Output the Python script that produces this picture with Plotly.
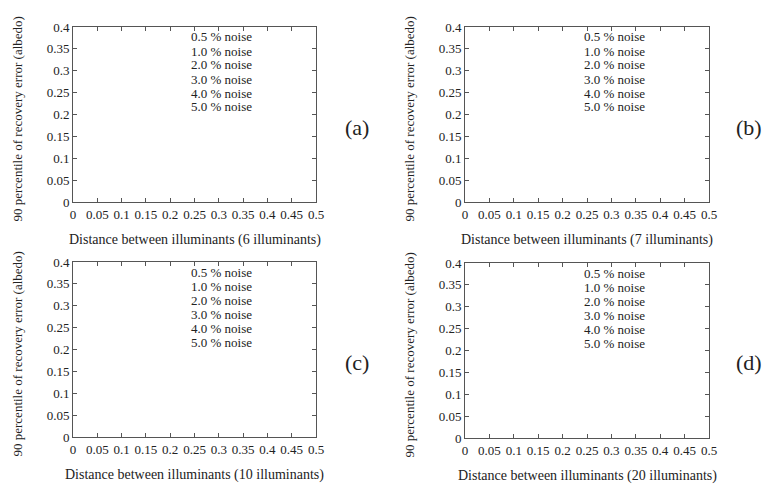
import plotly.graph_objects as go

# ---- data ----
panel_labels = ["(a)", "(b)", "(c)", "(d)"]
illuminants = [6, 7, 10, 20]
noise_levels = ["0.5 % noise", "1.0 % noise", "2.0 % noise", "3.0 % noise", "4.0 % noise", "5.0 % noise"]
x_ticks = [0, 0.05, 0.1, 0.15, 0.2, 0.25, 0.3, 0.35, 0.4, 0.45, 0.5]
x_ticklabels = ["0", "0.05", "0.1", "0.15", "0.2", "0.25", "0.3", "0.35", "0.4", "0.45", "0.5"]
y_ticks = [0, 0.05, 0.1, 0.15, 0.2, 0.25, 0.3, 0.35, 0.4]
y_ticklabels = ["0", "0.05", "0.1", "0.15", "0.2", "0.25", "0.3", "0.35", "0.4"]
# curves are not visible in the reference (no data drawn)
series_x = [[] for _ in noise_levels]
series_y = [[] for _ in noise_levels]

OFF = 8  # default page body margin
W, H = 781 - OFF, 485 - OFF
FONT = "Liberation Serif"
AX = "#555555"
TXT = "#222222"

# panel geometry in window pixels: (left, right, top, bottom)
boxes = [(73, 316, 27, 202), (465, 709, 27, 202), (73, 316, 262, 437), (465, 709, 263, 438)]
label_pos = [(357, 128), (749, 128), (357, 362), (749, 362)]

fig = go.Figure()
annotations = []


def px_x(p):
    return (p - OFF) / W


def px_y(p):
    return 1 - (p - OFF) / H


def ann(text, px, py, size=13, xanchor="center", angle=0):
    return dict(text=text, x=px_x(px), y=px_y(py), xref="paper", yref="paper",
                xanchor=xanchor, yanchor="middle", textangle=angle, showarrow=False,
                font=dict(family=FONT, size=size, color=TXT))


for i, (l, r, t, b) in enumerate(boxes):
    n = i + 1
    xa = "x" if n == 1 else f"x{n}"
    ya = "y" if n == 1 else f"y{n}"
    for k, name in enumerate(noise_levels):
        fig.add_trace(go.Scatter(x=series_x[k], y=series_y[k], mode="lines", name=name,
                                 xaxis=xa, yaxis=ya, showlegend=False))
    axcommon = dict(showline=True, linecolor=AX, linewidth=1, mirror="ticks", ticks="inside",
                    ticklen=4, tickcolor=AX, showgrid=False, zeroline=False,
                    tickfont=dict(family=FONT, size=13, color=TXT))
    fig.layout[f"xaxis{'' if n == 1 else n}"] = dict(
        domain=[px_x(l), px_x(r)], anchor=ya, range=[0, 0.5], tickvals=x_ticks,
        ticktext=x_ticklabels, **axcommon)
    fig.layout[f"yaxis{'' if n == 1 else n}"] = dict(
        domain=[px_y(b), px_y(t)], anchor=xa, range=[0, 0.4], tickvals=y_ticks,
        ticktext=y_ticklabels, **axcommon)
    # axis titles
    annotations.append(ann(f"Distance between illuminants ({illuminants[i]} illuminants)",
                           (l + r) / 2, b + 38, size=14))
    annotations.append(ann("90 percentile of recovery error (albedo)", l - 56, (t + b) / 2 + 5,
                           size=13, angle=-90))
    # legend text (no visible samples)
    for k, name in enumerate(noise_levels):
        annotations.append(ann(name, l + 0.75 * (r - l) - 1, t + 10 + 14 * k, xanchor="right"))
    lx, ly = label_pos[i]
    annotations.append(ann(panel_labels[i], lx, ly, size=22))

fig.update_layout(width=W, height=H, margin=dict(l=0, r=0, t=0, b=0, autoexpand=False),
                  paper_bgcolor="white", plot_bgcolor="white", annotations=annotations,
                  showlegend=False)
fig.write_html("out.html")
